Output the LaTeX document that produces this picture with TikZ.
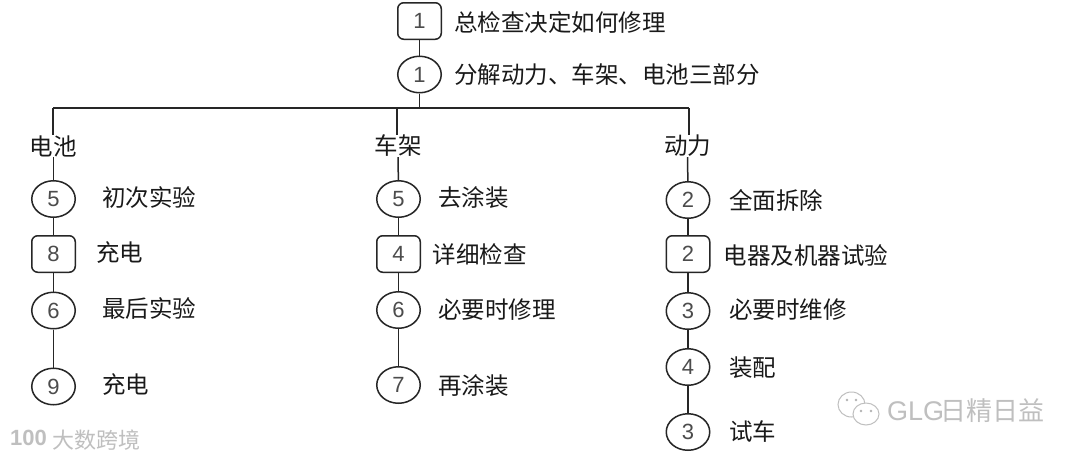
\documentclass[tikz,border=0pt]{standalone}
\usepackage{fontspec}
\setmainfont{Noto Sans CJK SC}
\newfontfamily\numfont{Liberation Sans}
\tikzset{
  x=1pt,y=-1pt,
  base/.style={draw=black!85,line width=1.5pt,minimum width=43.5pt,minimum height=36.5pt,inner sep=0pt,font=\numfont\fontsize{22}{22}\selectfont,text=black!70},
  oval/.style={base,ellipse},
  sq/.style={base,rectangle,rounded corners=6pt},
  lab/.style={anchor=west,inner sep=0pt,font=\fontsize{23.5}{24}\selectfont,text=black!90},
  head/.style={anchor=center,inner sep=0pt,font=\fontsize{23.5}{24}\selectfont,text=black!90},
  link/.style={draw=black!85,line width=1.5pt},
  mark1/.style={inner sep=0pt,anchor=west,text=black!25,font=\fontsize{22}{24}\selectfont},
  wm/.style={draw=black!25,line width=1pt,fill=white},
  wmdot/.style={fill=black!30,draw=none}
}
\usetikzlibrary{shapes.geometric}
\begin{document}
\begin{tikzpicture}
\useasboundingbox[fill=white] (0,0) rectangle (1080,459);
% top
\node[sq] (t1) at (419.5,21) {1};
\node[oval] (t2) at (419.5,74.5) {1};
\node[lab] (lt1) at (454,23) {总检查决定如何修理};
\node[lab] (lt2) at (454,75) {分解动力、车架、电池三部分};
\coordinate (bus) at (419.5,108);
\coordinate (busL) at (53,108);
\coordinate (busM) at (397,108);
\coordinate (busR) at (689,108);
\draw[link] (t1) -- (t2);
\draw[link] (t2) -- (bus);
\draw[link] (busL) -- (busR);
% heads
\node[head] (h1) at (53.5,146) {电池};
\node[head] (h2) at (398,146) {车架};
\node[head] (h3) at (687.5,146) {动力};
\draw[link] (busL) -- (h1.north -| busL);
\draw[link] (busM) -- (h2.north -| busM);
\draw[link] (busR) -- (h3.north -| busR);
% column 1
\node[oval] (a1) at (53.5,199) {5};
\node[sq] (a2) at (53.5,254) {8};
\node[oval] (a3) at (53.5,310.5) {6};
\node[oval] (a4) at (53.5,386.5) {9};
\node[lab] at (102,198) {初次实验};
\node[lab] at (96,253) {充电};
\node[lab] at (102,309) {最后实验};
\node[lab] at (102,385) {充电};
\draw[link] (h1) -- (a1);
\draw[link] (a1) -- (a2);
\draw[link] (a2) -- (a3);
\draw[link] (a3) -- (a4);
% column 2
\node[oval] (b1) at (398.5,199) {5};
\node[sq] (b2) at (398.5,254) {4};
\node[oval] (b3) at (398.5,310) {6};
\node[oval] (b4) at (398.5,385) {7};
\node[lab] at (438,198) {去涂装};
\node[lab] at (432.5,254) {详细检查};
\node[lab] at (438,310) {必要时修理};
\node[lab] at (438,386) {再涂装};
\draw[link] (h2) -- (b1);
\draw[link] (b1) -- (b2);
\draw[link] (b2) -- (b3);
\draw[link] (b3) -- (b4);
% column 3
\node[oval] (c1) at (688,200) {2};
\node[sq] (c2) at (688,254) {2};
\node[oval] (c3) at (688,311) {3};
\node[oval] (c4) at (688,367) {4};
\node[oval] (c5) at (688,432) {3};
\node[lab] at (729,200) {全面拆除};
\node[lab] at (723.5,255) {电器及机器试验};
\node[lab] at (729,310) {必要时维修};
\node[lab] at (729,368) {装配};
\node[lab] at (729,432) {试车};
\draw[link] (h3) -- (c1);
\draw[link] (c1) -- (c2);
\draw[link] (c2) -- (c3);
\draw[link] (c3) -- (c4);
\draw[link] (c4) -- (c5);
% watermarks
\node[mark1,font=\numfont\bfseries\fontsize{22}{22}\selectfont] at (10,438) {100};
\node[mark1] at (52,440) {大数跨境};
\draw[wm] (851.5,404.5) circle[x radius=13.5,y radius=12.5];
\draw[wm] (866,414) circle[x radius=13,y radius=11];
\fill[wmdot] (847,400) circle[radius=1.3] (856,400) circle[radius=1.3] (861,411) circle[radius=1.3] (871,411) circle[radius=1.3];
\node[mark1,font=\numfont\fontsize{27}{27}\selectfont] at (887,411) {GLG};
\node[mark1,font=\fontsize{26}{26}\selectfont] at (940,411) {日精日益};
\end{tikzpicture}
\end{document}
